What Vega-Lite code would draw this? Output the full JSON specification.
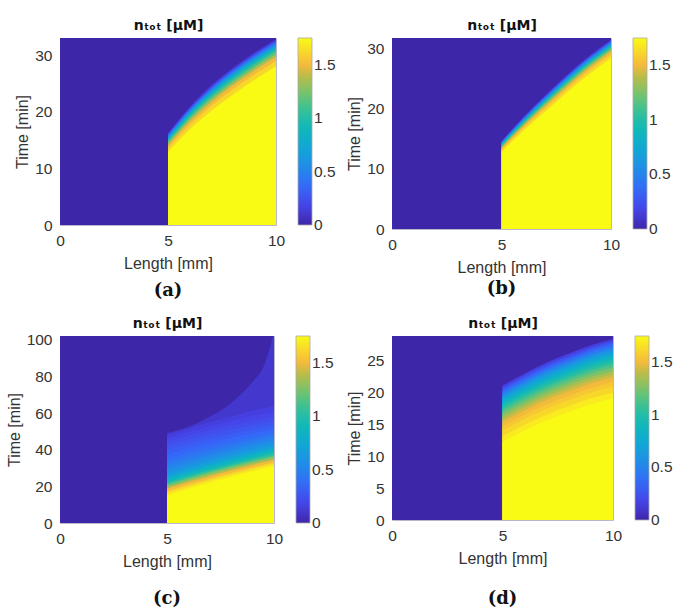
{
  "$schema": "https://vega.github.io/schema/vega-lite/v6.json",
  "background": "white",
  "padding": {"left": 5, "top": 17, "right": 0, "bottom": 0},
  "columns": 2,
  "spacing": {"column": 9, "row": 15},
  "resolve": {"scale": {"color": "independent"}, "legend": {"color": "independent"}},
  "config": {
    "font": "Liberation Sans",
    "view": {"stroke": "#b8b8cc", "strokeWidth": 1},
    "axis": {"grid": false, "ticks": false, "domain": false, "labelFontSize": 15.5, "labelColor": "#333333", "titleFontSize": 16, "titleFontWeight": "normal", "titleColor": "#333333", "labelFlush": false, "labelPadding": 8},
    "axisBottom": {"titlePadding": 7},
    "legend": {"gradientThickness": 14, "offset": 22, "labelFontSize": 15.5, "labelColor": "#333333", "gradientStrokeColor": "#aaaaaa", "gradientStrokeWidth": 0.8, "labelOffset": 6, "labelBaseline": "middle"},
    "title": {"font": "DejaVu Serif", "fontSize": 18, "fontWeight": "bold", "color": "#111111"}
  },
  "datasets": {
    "a": [
      {"v":0,"x":0,"t":33},{"v":0,"x":10,"t":33},
      {"v":0.15,"x":5,"t":16.2},{"v":0.15,"x":6,"t":20.8},{"v":0.15,"x":7,"t":24.6},{"v":0.15,"x":8,"t":27.7},{"v":0.15,"x":9,"t":30.4},{"v":0.15,"x":10,"t":32.8},
      {"v":0.35,"x":5,"t":15.94},{"v":0.35,"x":6,"t":20.48},{"v":0.35,"x":7,"t":24.24},{"v":0.35,"x":8,"t":27.32},{"v":0.35,"x":9,"t":30.02},{"v":0.35,"x":10,"t":32.42},
      {"v":0.55,"x":5,"t":15.67},{"v":0.55,"x":6,"t":20.16},{"v":0.55,"x":7,"t":23.88},{"v":0.55,"x":8,"t":26.95},{"v":0.55,"x":9,"t":29.63},{"v":0.55,"x":10,"t":32.03},
      {"v":0.75,"x":5,"t":15.41},{"v":0.75,"x":6,"t":19.84},{"v":0.75,"x":7,"t":23.52},{"v":0.75,"x":8,"t":26.57},{"v":0.75,"x":9,"t":29.25},{"v":0.75,"x":10,"t":31.65},
      {"v":0.95,"x":5,"t":15.11},{"v":0.95,"x":6,"t":19.48},{"v":0.95,"x":7,"t":23.11},{"v":0.95,"x":8,"t":26.15},{"v":0.95,"x":9,"t":28.82},{"v":0.95,"x":10,"t":31.22},
      {"v":1.15,"x":5,"t":14.78},{"v":1.15,"x":6,"t":19.08},{"v":1.15,"x":7,"t":22.66},{"v":1.15,"x":8,"t":25.68},{"v":1.15,"x":9,"t":28.34},{"v":1.15,"x":10,"t":30.74},
      {"v":1.35,"x":5,"t":14.42},{"v":1.35,"x":6,"t":18.64},{"v":1.35,"x":7,"t":22.17},{"v":1.35,"x":8,"t":25.16},{"v":1.35,"x":9,"t":27.81},{"v":1.35,"x":10,"t":30.21},
      {"v":1.5,"x":5,"t":14.05},{"v":1.5,"x":6,"t":18.2},{"v":1.5,"x":7,"t":21.67},{"v":1.5,"x":8,"t":24.64},{"v":1.5,"x":9,"t":27.28},{"v":1.5,"x":10,"t":29.68},
      {"v":1.62,"x":5,"t":13.56},{"v":1.62,"x":6,"t":17.6},{"v":1.62,"x":7,"t":21.0},{"v":1.62,"x":8,"t":23.94},{"v":1.62,"x":9,"t":26.56},{"v":1.62,"x":10,"t":28.96},
      {"v":1.75,"x":5,"t":12.9},{"v":1.75,"x":6,"t":16.8},{"v":1.75,"x":7,"t":20.1},{"v":1.75,"x":8,"t":23.0},{"v":1.75,"x":9,"t":25.6},{"v":1.75,"x":10,"t":28.0}
    ],
    "b": [
      {"v":0,"x":0,"t":31.7},{"v":0,"x":10,"t":31.7},
      {"v":0.15,"x":5,"t":14.6},{"v":0.15,"x":6,"t":18.6},{"v":0.15,"x":7,"t":22.2},{"v":0.15,"x":8,"t":25.6},{"v":0.15,"x":9,"t":28.7},{"v":0.15,"x":10,"t":31.4},
      {"v":0.35,"x":5,"t":14.46},{"v":0.35,"x":6,"t":18.42},{"v":0.35,"x":7,"t":21.98},{"v":0.35,"x":8,"t":25.37},{"v":0.35,"x":9,"t":28.46},{"v":0.35,"x":10,"t":31.16},
      {"v":0.55,"x":5,"t":14.31},{"v":0.55,"x":6,"t":18.23},{"v":0.55,"x":7,"t":21.77},{"v":0.55,"x":8,"t":25.14},{"v":0.55,"x":9,"t":28.22},{"v":0.55,"x":10,"t":30.92},
      {"v":0.75,"x":5,"t":14.17},{"v":0.75,"x":6,"t":18.05},{"v":0.75,"x":7,"t":21.55},{"v":0.75,"x":8,"t":24.9},{"v":0.75,"x":9,"t":27.98},{"v":0.75,"x":10,"t":30.68},
      {"v":0.95,"x":5,"t":14.01},{"v":0.95,"x":6,"t":17.84},{"v":0.95,"x":7,"t":21.31},{"v":0.95,"x":8,"t":24.64},{"v":0.95,"x":9,"t":27.71},{"v":0.95,"x":10,"t":30.41},
      {"v":1.15,"x":5,"t":13.83},{"v":1.15,"x":6,"t":17.61},{"v":1.15,"x":7,"t":21.04},{"v":1.15,"x":8,"t":24.35},{"v":1.15,"x":9,"t":27.41},{"v":1.15,"x":10,"t":30.11},
      {"v":1.35,"x":5,"t":13.63},{"v":1.35,"x":6,"t":17.36},{"v":1.35,"x":7,"t":20.74},{"v":1.35,"x":8,"t":24.03},{"v":1.35,"x":9,"t":27.08},{"v":1.35,"x":10,"t":29.78},
      {"v":1.5,"x":5,"t":13.43},{"v":1.5,"x":6,"t":17.1},{"v":1.5,"x":7,"t":20.44},{"v":1.5,"x":8,"t":23.71},{"v":1.5,"x":9,"t":26.75},{"v":1.5,"x":10,"t":29.45},
      {"v":1.62,"x":5,"t":13.16},{"v":1.62,"x":6,"t":16.76},{"v":1.62,"x":7,"t":20.04},{"v":1.62,"x":8,"t":23.28},{"v":1.62,"x":9,"t":26.3},{"v":1.62,"x":10,"t":29.0},
      {"v":1.75,"x":5,"t":12.8},{"v":1.75,"x":6,"t":16.3},{"v":1.75,"x":7,"t":19.5},{"v":1.75,"x":8,"t":22.7},{"v":1.75,"x":9,"t":25.7},{"v":1.75,"x":10,"t":28.4}
    ],
    "c": [
      {"v":0,"x":0,"t":102},{"v":0,"x":10,"t":102},
      {"v":0.1,"x":5,"t":49},{"v":0.1,"x":6,"t":52.5},{"v":0.1,"x":7,"t":58},{"v":0.1,"x":8,"t":65.5},{"v":0.1,"x":9,"t":77},{"v":0.1,"x":9.5,"t":85},{"v":0.1,"x":10,"t":104},
      {"v":0.15,"x":5,"t":48},{"v":0.15,"x":6,"t":51.6},{"v":0.15,"x":7,"t":55.0},{"v":0.15,"x":8,"t":58.2},{"v":0.15,"x":9,"t":61.2},{"v":0.15,"x":10,"t":64},
      {"v":0.185,"x":5,"t":46.25},{"v":0.185,"x":6,"t":49.6},{"v":0.185,"x":7,"t":52.75},{"v":0.185,"x":8,"t":55.7},{"v":0.185,"x":9,"t":58.45},{"v":0.185,"x":10,"t":61},
      {"v":0.22,"x":5,"t":44.5},{"v":0.22,"x":6,"t":47.6},{"v":0.22,"x":7,"t":50.5},{"v":0.22,"x":8,"t":53.2},{"v":0.22,"x":9,"t":55.7},{"v":0.22,"x":10,"t":58},
      {"v":0.26,"x":5,"t":42.25},{"v":0.26,"x":6,"t":45.35},{"v":0.26,"x":7,"t":48.25},{"v":0.26,"x":8,"t":50.95},{"v":0.26,"x":9,"t":53.45},{"v":0.26,"x":10,"t":55.75},
      {"v":0.3,"x":5,"t":40},{"v":0.3,"x":6,"t":43.1},{"v":0.3,"x":7,"t":46.0},{"v":0.3,"x":8,"t":48.7},{"v":0.3,"x":9,"t":51.2},{"v":0.3,"x":10,"t":53.5},
      {"v":0.35,"x":5,"t":37.5},{"v":0.35,"x":6,"t":40.7},{"v":0.35,"x":7,"t":43.7},{"v":0.35,"x":8,"t":46.5},{"v":0.35,"x":9,"t":49.1},{"v":0.35,"x":10,"t":51.5},
      {"v":0.4,"x":5,"t":35},{"v":0.4,"x":6,"t":38.3},{"v":0.4,"x":7,"t":41.4},{"v":0.4,"x":8,"t":44.3},{"v":0.4,"x":9,"t":47.0},{"v":0.4,"x":10,"t":49.5},
      {"v":0.45,"x":5,"t":33},{"v":0.45,"x":6,"t":36.4},{"v":0.45,"x":7,"t":39.6},{"v":0.45,"x":8,"t":42.6},{"v":0.45,"x":9,"t":45.4},{"v":0.45,"x":10,"t":48},
      {"v":0.5,"x":5,"t":31},{"v":0.5,"x":6,"t":34.5},{"v":0.5,"x":7,"t":37.8},{"v":0.5,"x":8,"t":40.9},{"v":0.5,"x":9,"t":43.8},{"v":0.5,"x":10,"t":46.5},
      {"v":0.55,"x":5,"t":29.5},{"v":0.55,"x":6,"t":33.05},{"v":0.55,"x":7,"t":36.4},{"v":0.55,"x":8,"t":39.55},{"v":0.55,"x":9,"t":42.5},{"v":0.55,"x":10,"t":45.25},
      {"v":0.6,"x":5,"t":28},{"v":0.6,"x":6,"t":31.6},{"v":0.6,"x":7,"t":35.0},{"v":0.6,"x":8,"t":38.2},{"v":0.6,"x":9,"t":41.2},{"v":0.6,"x":10,"t":44},
      {"v":0.675,"x":5,"t":26.5},{"v":0.675,"x":6,"t":30.15},{"v":0.675,"x":7,"t":33.55},{"v":0.675,"x":8,"t":36.8},{"v":0.675,"x":9,"t":39.8},{"v":0.675,"x":10,"t":42.65},
      {"v":0.75,"x":5,"t":25},{"v":0.75,"x":6,"t":28.7},{"v":0.75,"x":7,"t":32.1},{"v":0.75,"x":8,"t":35.4},{"v":0.75,"x":9,"t":38.4},{"v":0.75,"x":10,"t":41.3},
      {"v":0.825,"x":5,"t":24.15},{"v":0.825,"x":6,"t":27.8},{"v":0.825,"x":7,"t":31.25},{"v":0.825,"x":8,"t":34.5},{"v":0.825,"x":9,"t":37.55},{"v":0.825,"x":10,"t":40.4},
      {"v":0.9,"x":5,"t":23.3},{"v":0.9,"x":6,"t":26.9},{"v":0.9,"x":7,"t":30.4},{"v":0.9,"x":8,"t":33.6},{"v":0.9,"x":9,"t":36.7},{"v":0.9,"x":10,"t":39.5},
      {"v":1.05,"x":5,"t":22},{"v":1.05,"x":6,"t":25.6},{"v":1.05,"x":7,"t":29.0},{"v":1.05,"x":8,"t":32.2},{"v":1.05,"x":9,"t":35.2},{"v":1.05,"x":10,"t":38},
      {"v":1.2,"x":5,"t":21},{"v":1.2,"x":6,"t":24.6},{"v":1.2,"x":7,"t":27.9},{"v":1.2,"x":8,"t":31.1},{"v":1.2,"x":9,"t":34.0},{"v":1.2,"x":10,"t":36.8},
      {"v":1.35,"x":5,"t":20},{"v":1.35,"x":6,"t":23.5},{"v":1.35,"x":7,"t":26.9},{"v":1.35,"x":8,"t":30.0},{"v":1.35,"x":9,"t":33.0},{"v":1.35,"x":10,"t":35.7},
      {"v":1.5,"x":5,"t":18.8},{"v":1.5,"x":6,"t":22.3},{"v":1.5,"x":7,"t":25.7},{"v":1.5,"x":8,"t":28.8},{"v":1.5,"x":9,"t":31.8},{"v":1.5,"x":10,"t":34.5},
      {"v":1.62,"x":5,"t":17.3},{"v":1.62,"x":6,"t":20.8},{"v":1.62,"x":7,"t":24.2},{"v":1.62,"x":8,"t":27.3},{"v":1.62,"x":9,"t":30.3},{"v":1.62,"x":10,"t":33},
      {"v":1.69,"x":5,"t":16.15},{"v":1.69,"x":6,"t":19.7},{"v":1.69,"x":7,"t":23.1},{"v":1.69,"x":8,"t":26.25},{"v":1.69,"x":9,"t":29.25},{"v":1.69,"x":10,"t":32},
      {"v":1.75,"x":5,"t":15},{"v":1.75,"x":6,"t":18.6},{"v":1.75,"x":7,"t":22.0},{"v":1.75,"x":8,"t":25.2},{"v":1.75,"x":9,"t":28.2},{"v":1.75,"x":10,"t":31}
    ],
    "d": [
      {"v":0,"x":0,"t":28.75},{"v":0,"x":10,"t":28.75},
      {"v":0.15,"x":5,"t":21.0},{"v":0.15,"x":6,"t":22.9},{"v":0.15,"x":7,"t":24.6},{"v":0.15,"x":8,"t":26.0},{"v":0.15,"x":9,"t":27.3},{"v":0.15,"x":10,"t":28.3},
      {"v":0.25,"x":5,"t":20.65},{"v":0.25,"x":6,"t":22.54},{"v":0.25,"x":7,"t":24.24},{"v":0.25,"x":8,"t":25.64},{"v":0.25,"x":9,"t":26.93},{"v":0.25,"x":10,"t":27.93},
      {"v":0.35,"x":5,"t":20.3},{"v":0.35,"x":6,"t":22.19},{"v":0.35,"x":7,"t":23.88},{"v":0.35,"x":8,"t":25.27},{"v":0.35,"x":9,"t":26.56},{"v":0.35,"x":10,"t":27.56},
      {"v":0.45,"x":5,"t":19.94},{"v":0.45,"x":6,"t":21.83},{"v":0.45,"x":7,"t":23.52},{"v":0.45,"x":8,"t":24.91},{"v":0.45,"x":9,"t":26.2},{"v":0.45,"x":10,"t":27.18},
      {"v":0.55,"x":5,"t":19.59},{"v":0.55,"x":6,"t":21.48},{"v":0.55,"x":7,"t":23.16},{"v":0.55,"x":8,"t":24.54},{"v":0.55,"x":9,"t":25.83},{"v":0.55,"x":10,"t":26.81},
      {"v":0.65,"x":5,"t":19.24},{"v":0.65,"x":6,"t":21.12},{"v":0.65,"x":7,"t":22.8},{"v":0.65,"x":8,"t":24.18},{"v":0.65,"x":9,"t":25.46},{"v":0.65,"x":10,"t":26.44},
      {"v":0.75,"x":5,"t":18.89},{"v":0.75,"x":6,"t":20.76},{"v":0.75,"x":7,"t":22.44},{"v":0.75,"x":8,"t":23.82},{"v":0.75,"x":9,"t":25.09},{"v":0.75,"x":10,"t":26.07},
      {"v":0.85,"x":5,"t":18.49},{"v":0.85,"x":6,"t":20.36},{"v":0.85,"x":7,"t":22.03},{"v":0.85,"x":8,"t":23.41},{"v":0.85,"x":9,"t":24.68},{"v":0.85,"x":10,"t":25.65},
      {"v":0.95,"x":5,"t":18.1},{"v":0.95,"x":6,"t":19.96},{"v":0.95,"x":7,"t":21.63},{"v":0.95,"x":8,"t":23.0},{"v":0.95,"x":9,"t":24.26},{"v":0.95,"x":10,"t":25.23},
      {"v":1.05,"x":5,"t":17.66},{"v":1.05,"x":6,"t":19.52},{"v":1.05,"x":7,"t":21.18},{"v":1.05,"x":8,"t":22.54},{"v":1.05,"x":9,"t":23.8},{"v":1.05,"x":10,"t":24.77},
      {"v":1.15,"x":5,"t":17.22},{"v":1.15,"x":6,"t":19.07},{"v":1.15,"x":7,"t":20.73},{"v":1.15,"x":8,"t":22.09},{"v":1.15,"x":9,"t":23.34},{"v":1.15,"x":10,"t":24.3},
      {"v":1.25,"x":5,"t":16.73},{"v":1.25,"x":6,"t":18.58},{"v":1.25,"x":7,"t":20.23},{"v":1.25,"x":8,"t":21.59},{"v":1.25,"x":9,"t":22.84},{"v":1.25,"x":10,"t":23.79},
      {"v":1.35,"x":5,"t":16.25},{"v":1.35,"x":6,"t":18.09},{"v":1.35,"x":7,"t":19.74},{"v":1.35,"x":8,"t":21.09},{"v":1.35,"x":9,"t":22.33},{"v":1.35,"x":10,"t":23.28},
      {"v":1.43,"x":5,"t":15.76},{"v":1.43,"x":6,"t":17.6},{"v":1.43,"x":7,"t":19.24},{"v":1.43,"x":8,"t":20.59},{"v":1.43,"x":9,"t":21.83},{"v":1.43,"x":10,"t":22.77},
      {"v":1.5,"x":5,"t":15.28},{"v":1.5,"x":6,"t":17.11},{"v":1.5,"x":7,"t":18.75},{"v":1.5,"x":8,"t":20.08},{"v":1.5,"x":9,"t":21.32},{"v":1.5,"x":10,"t":22.25},
      {"v":1.56,"x":5,"t":14.62},{"v":1.56,"x":6,"t":16.45},{"v":1.56,"x":7,"t":18.07},{"v":1.56,"x":8,"t":19.4},{"v":1.56,"x":9,"t":20.63},{"v":1.56,"x":10,"t":21.56},
      {"v":1.62,"x":5,"t":13.96},{"v":1.62,"x":6,"t":15.78},{"v":1.62,"x":7,"t":17.4},{"v":1.62,"x":8,"t":18.72},{"v":1.62,"x":9,"t":19.94},{"v":1.62,"x":10,"t":20.86},
      {"v":1.69,"x":5,"t":13.08},{"v":1.69,"x":6,"t":14.89},{"v":1.69,"x":7,"t":16.5},{"v":1.69,"x":8,"t":17.81},{"v":1.69,"x":9,"t":19.02},{"v":1.69,"x":10,"t":19.93},
      {"v":1.75,"x":5,"t":12.2},{"v":1.75,"x":6,"t":14.0},{"v":1.75,"x":7,"t":15.6},{"v":1.75,"x":8,"t":16.9},{"v":1.75,"x":9,"t":18.1},{"v":1.75,"x":10,"t":19.0}
    ]
  },
  "concat": [
    {
      "width": 216, "height": 187,
      "title": {"text": "(a)", "orient": "bottom", "offset": 10},
      "data": {"name": "a"},
      "resolve": {"axis": {"x": "independent"}},
      "layer": [
        {
          "mark": {"type": "area", "interpolate": "monotone", "clip": true},
          "encoding": {
            "x": {"field": "x", "type": "quantitative", "scale": {"domain": [0, 10], "nice": false}, "axis": {"values": [0, 5, 10], "title": "Length [mm]"}},
            "y": {"field": "t", "type": "quantitative", "stack": null, "scale": {"domain": [0, 33], "nice": false}, "axis": {"values": [0, 10, 20, 30], "title": "Time [min]"}},
            "color": {"field": "v", "type": "quantitative", "scale": {"domain": [0, 0.175, 0.35, 0.525, 0.7, 0.875, 1.05, 1.225, 1.4, 1.5, 1.6, 1.75], "range": ["#3e26a8", "#4743e8", "#3568f8", "#2289ea", "#13a3d8", "#0cb6bf", "#2cc09f", "#71c36f", "#bdbc47", "#f4ba3c", "#f8d22e", "#f9fb15"], "interpolate": "rgb"}, "legend": {"title": null, "values": [0, 0.5, 1, 1.5], "format": ".1~f", "gradientLength": 187, "encode": {"labels": {"update": {"baseline": {"value": "middle"}}}}}}
          }
        },
        {
          "mark": {"type": "point", "opacity": 0},
          "encoding": {"x": {"field": "x", "type": "quantitative", "axis": {"orient": "top", "title": "nₜₒₜ [μM]", "labels": false, "titleFontWeight": "bold", "titleFontSize": 14, "titleColor": "#111111", "titleFont": "DejaVu Sans", "titlePadding": 6}}}
        }
      ]
    },
    {
      "width": 219, "height": 191,
      "title": {"text": "(b)", "orient": "bottom", "offset": 4},
      "data": {"name": "b"},
      "resolve": {"axis": {"x": "independent"}},
      "layer": [
        {
          "mark": {"type": "area", "interpolate": "monotone", "clip": true},
          "encoding": {
            "x": {"field": "x", "type": "quantitative", "scale": {"domain": [0, 10], "nice": false}, "axis": {"values": [0, 5, 10], "title": "Length [mm]"}},
            "y": {"field": "t", "type": "quantitative", "stack": null, "scale": {"domain": [0, 31.7], "nice": false}, "axis": {"values": [0, 10, 20, 30], "title": "Time [min]"}},
            "color": {"field": "v", "type": "quantitative", "scale": {"domain": [0, 0.175, 0.35, 0.525, 0.7, 0.875, 1.05, 1.225, 1.4, 1.5, 1.6, 1.75], "range": ["#3e26a8", "#4743e8", "#3568f8", "#2289ea", "#13a3d8", "#0cb6bf", "#2cc09f", "#71c36f", "#bdbc47", "#f4ba3c", "#f8d22e", "#f9fb15"], "interpolate": "rgb"}, "legend": {"title": null, "values": [0, 0.5, 1, 1.5], "format": ".1~f", "gradientLength": 191, "encode": {"labels": {"update": {"baseline": {"value": "middle"}}}}}}
          }
        },
        {
          "mark": {"type": "point", "opacity": 0},
          "encoding": {"x": {"field": "x", "type": "quantitative", "axis": {"orient": "top", "title": "nₜₒₜ [μM]", "labels": false, "titleFontWeight": "bold", "titleFontSize": 14, "titleColor": "#111111", "titleFont": "DejaVu Sans", "titlePadding": 6}}}
        }
      ]
    },
    {
      "width": 214, "height": 187,
      "title": {"text": "(c)", "orient": "bottom", "offset": 20},
      "data": {"name": "c"},
      "resolve": {"axis": {"x": "independent"}},
      "layer": [
        {
          "mark": {"type": "area", "interpolate": "monotone", "clip": true},
          "encoding": {
            "x": {"field": "x", "type": "quantitative", "scale": {"domain": [0, 10], "nice": false}, "axis": {"values": [0, 5, 10], "title": "Length [mm]"}},
            "y": {"field": "t", "type": "quantitative", "stack": null, "scale": {"domain": [0, 102], "nice": false}, "axis": {"values": [0, 20, 40, 60, 80, 100], "title": "Time [min]"}},
            "color": {"field": "v", "type": "quantitative", "scale": {"domain": [0, 0.175, 0.35, 0.525, 0.7, 0.875, 1.05, 1.225, 1.4, 1.5, 1.6, 1.75], "range": ["#3e26a8", "#4743e8", "#3568f8", "#2289ea", "#13a3d8", "#0cb6bf", "#2cc09f", "#71c36f", "#bdbc47", "#f4ba3c", "#f8d22e", "#f9fb15"], "interpolate": "rgb"}, "legend": {"title": null, "values": [0, 0.5, 1, 1.5], "format": ".1~f", "gradientLength": 187, "encode": {"labels": {"update": {"baseline": {"value": "middle"}}}}}}
          }
        },
        {
          "mark": {"type": "point", "opacity": 0},
          "encoding": {"x": {"field": "x", "type": "quantitative", "axis": {"orient": "top", "title": "nₜₒₜ [μM]", "labels": false, "titleFontWeight": "bold", "titleFontSize": 14, "titleColor": "#111111", "titleFont": "DejaVu Sans", "titlePadding": 6}}}
        }
      ]
    },
    {
      "width": 221, "height": 184,
      "title": {"text": "(d)", "orient": "bottom", "offset": 23},
      "data": {"name": "d"},
      "resolve": {"axis": {"x": "independent"}},
      "layer": [
        {
          "mark": {"type": "area", "interpolate": "monotone", "clip": true},
          "encoding": {
            "x": {"field": "x", "type": "quantitative", "scale": {"domain": [0, 10], "nice": false}, "axis": {"values": [0, 5, 10], "title": "Length [mm]"}},
            "y": {"field": "t", "type": "quantitative", "stack": null, "scale": {"domain": [0, 28.75], "nice": false}, "axis": {"values": [0, 5, 10, 15, 20, 25], "title": "Time [min]"}},
            "color": {"field": "v", "type": "quantitative", "scale": {"domain": [0, 0.175, 0.35, 0.525, 0.7, 0.875, 1.05, 1.225, 1.4, 1.5, 1.6, 1.75], "range": ["#3e26a8", "#4743e8", "#3568f8", "#2289ea", "#13a3d8", "#0cb6bf", "#2cc09f", "#71c36f", "#bdbc47", "#f4ba3c", "#f8d22e", "#f9fb15"], "interpolate": "rgb"}, "legend": {"title": null, "values": [0, 0.5, 1, 1.5], "format": ".1~f", "gradientLength": 184, "encode": {"labels": {"update": {"baseline": {"value": "middle"}}}}}}
          }
        },
        {
          "mark": {"type": "point", "opacity": 0},
          "encoding": {"x": {"field": "x", "type": "quantitative", "axis": {"orient": "top", "title": "nₜₒₜ [μM]", "labels": false, "titleFontWeight": "bold", "titleFontSize": 14, "titleColor": "#111111", "titleFont": "DejaVu Sans", "titlePadding": 6}}}
        }
      ]
    }
  ]
}
